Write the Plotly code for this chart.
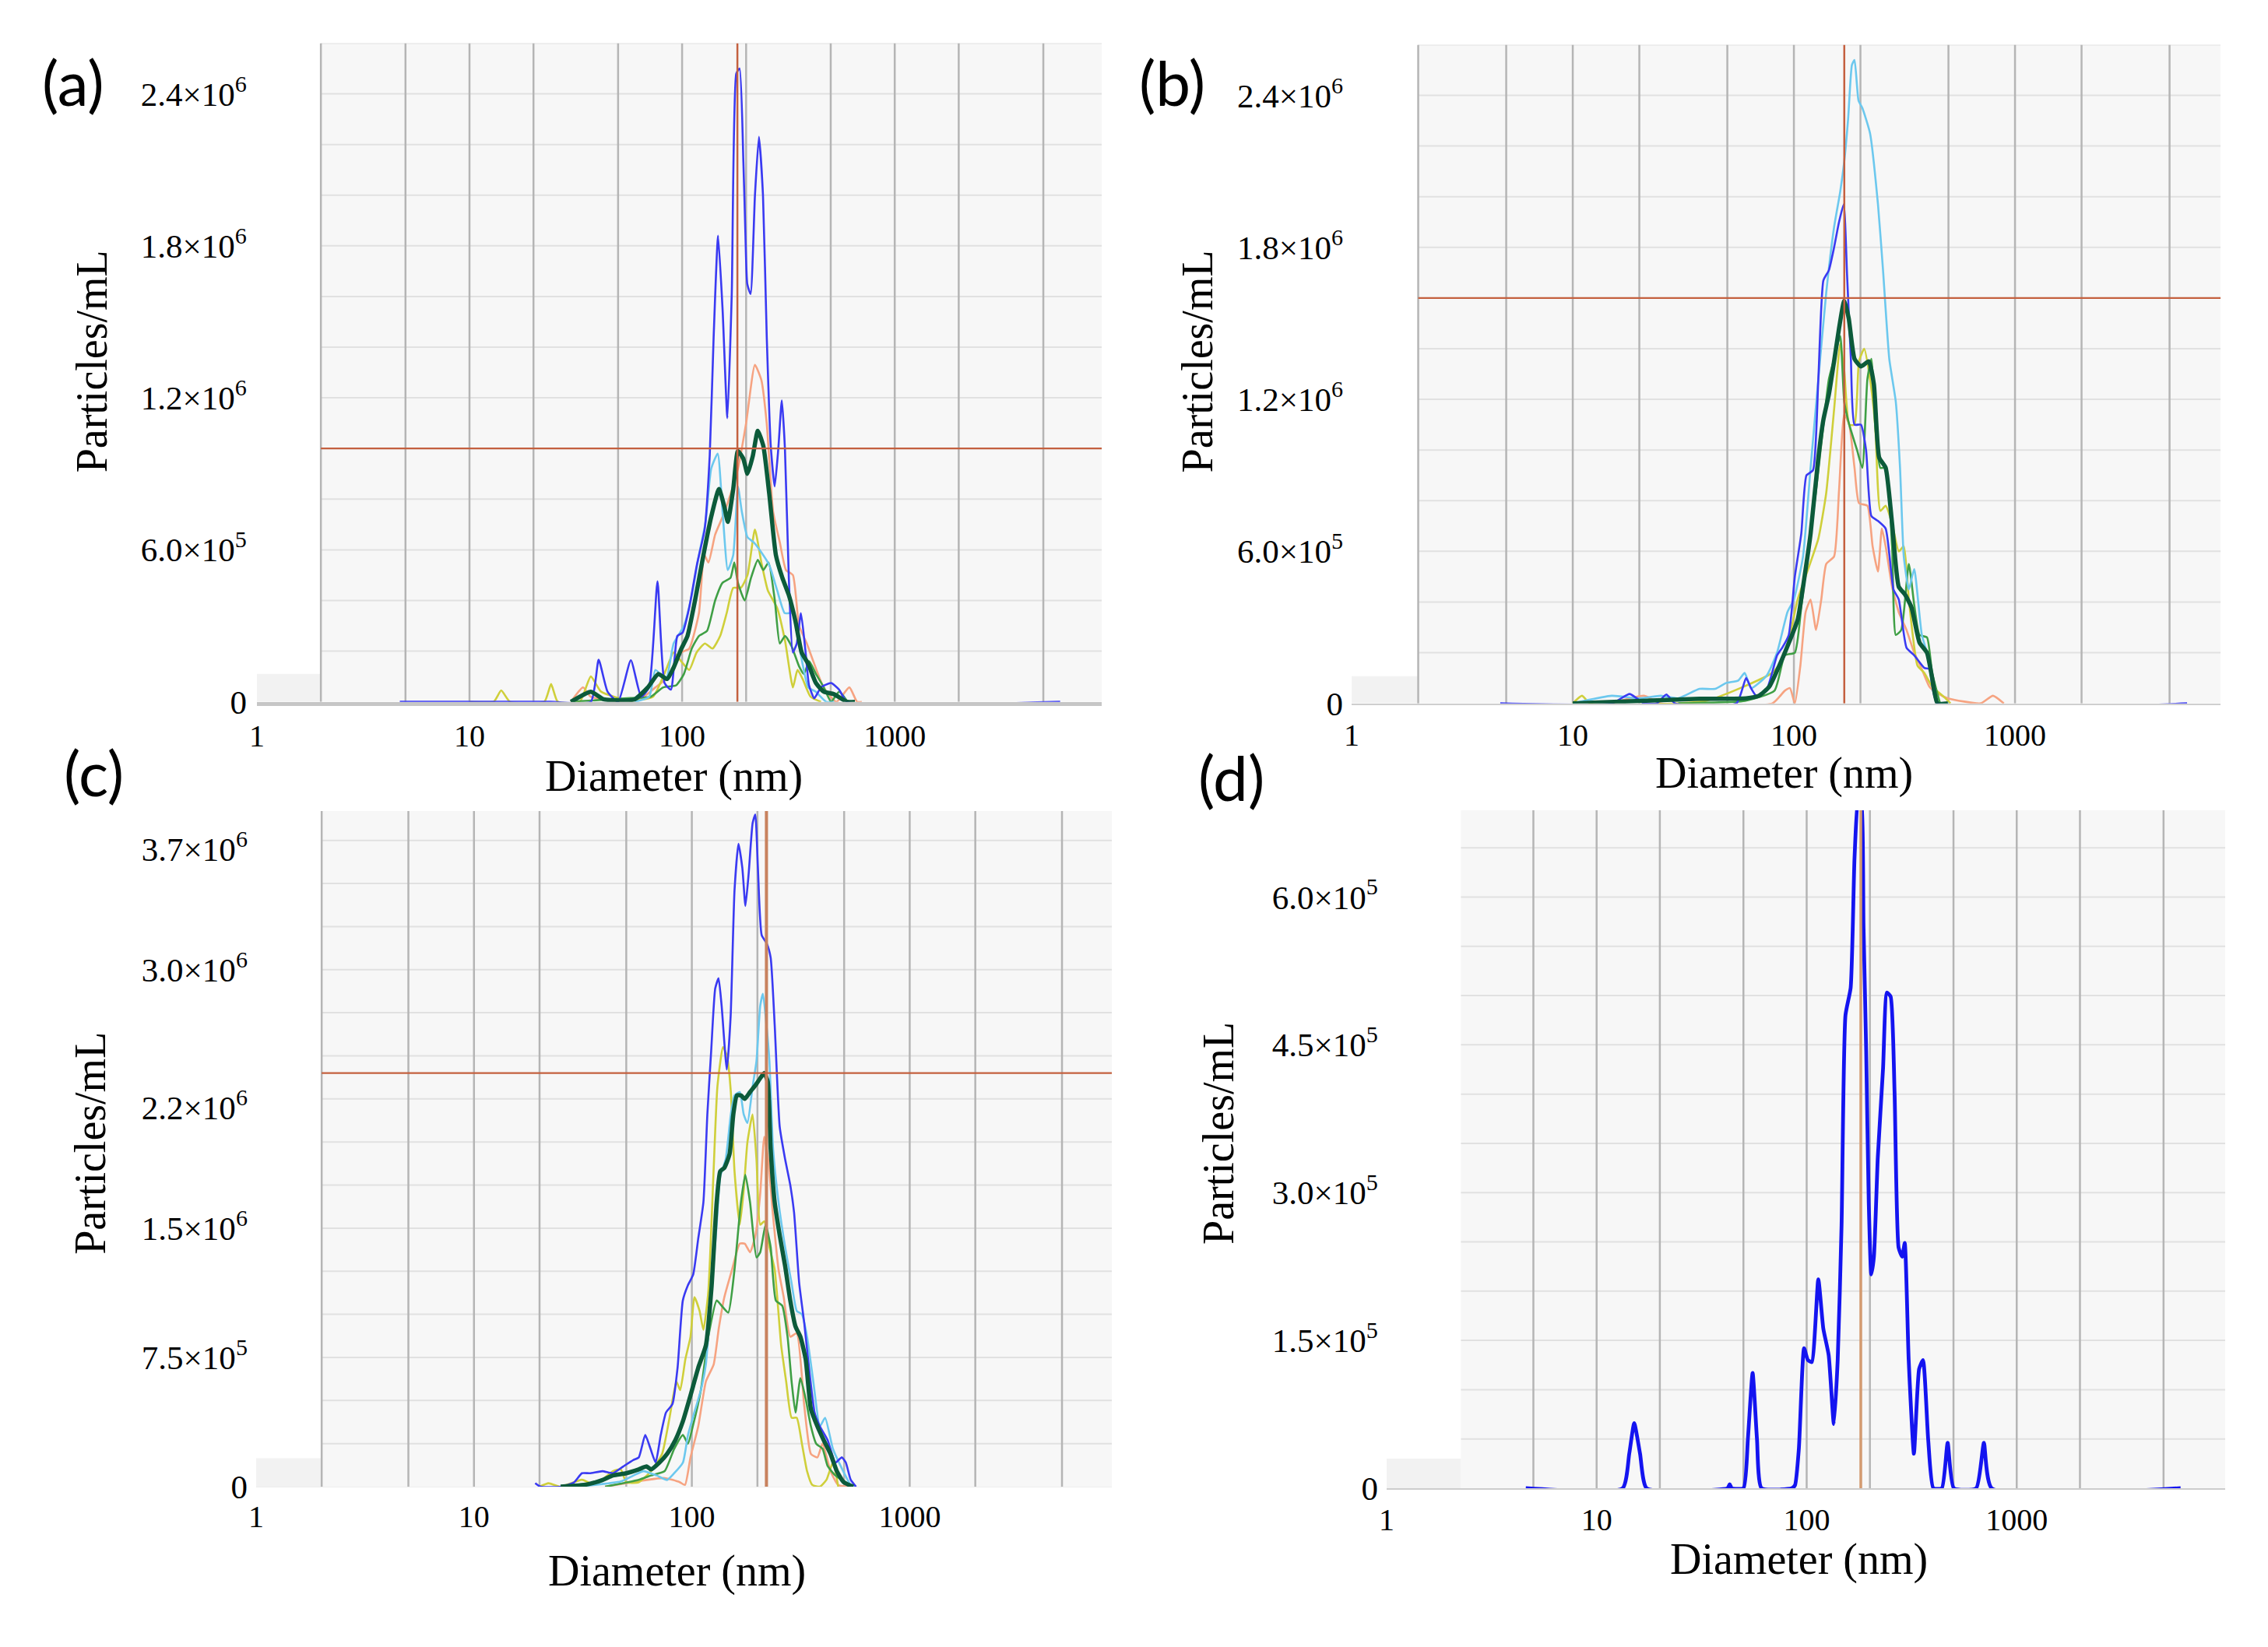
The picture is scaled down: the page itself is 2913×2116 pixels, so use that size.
import math
import plotly.graph_objects as go

# ---------------- data (diameter nm, particles/mL) ----------------
A_SALMON = [(30, 0), (34.2, 5.7e4), (37.2, 2e4), (46.6, 5e3), (63.3, 1e4), (74.9, 5.7e4), (84, 9e4),
            (91.2, 1.4e5), (99.2, 1.95e5), (108, 2.1e5), (120, 3.5e5), (127, 5.8e5), (133, 5.5e5),
            (143, 6.6e5), (155, 7.3e5), (169, 8.2e5), (183, 9.2e5), (200, 1.1e6), (220, 1.33e6),
            (236, 1.27e6), (250, 1.1e6), (268, 7.5e5), (288, 6.3e5), (308, 5.2e5), (332, 5.0e5),
            (355, 3.0e5), (386, 2.3e5), (414, 1.6e5), (463, 5.7e4), (532, 0), (612, 5.7e4), (665, 0), (700, 0)]
A_YELLOW = [(10, 0), (13, 0), (14.1, 4.5e4), (15.5, 0), (22.5, 0), (24.2, 7e4), (26, 0), (33, 0),
            (37.2, 1e5), (41.6, 4e4), (56.6, 5e3), (72.9, 2e4), (84, 1.26e5), (91.2, 1.95e5), (99, 1.6e5),
            (108, 1.26e5), (117, 1.95e5), (128, 2.3e5), (139, 2.1e5), (151, 2.6e5), (162, 3.5e5),
            (174, 4.5e5), (189, 4.5e5), (203, 5e5), (220, 6.8e5), (236, 5.5e5), (253, 4.4e5),
            (280, 3.7e5), (305, 2.4e5), (332, 5.7e4), (349, 1.26e5), (369, 9e4), (402, 2e4), (450, 0)]
A_GREEN = [(30, 0), (57, 1.5e4), (71, 2e4), (81.5, 5.7e4), (93.7, 6.5e4), (102, 1.1e5), (111, 2.1e5),
           (120, 2.6e5), (131, 2.8e5), (143, 4e5), (155, 4.7e5), (169, 4.9e5), (176, 5.5e5), (183, 4.7e5),
           (197, 4e5), (211, 4.9e5), (227, 5.6e5), (241, 5.2e5), (255, 5.5e5), (273, 4e5), (288, 2.3e5),
           (305, 2.6e5), (327, 2.2e5), (355, 1.4e5), (374, 1.1e5), (396, 1.6e5), (426, 1.1e5),
           (464, 5.7e4), (502, 0), (548, 4e4), (600, 0)]
A_CYAN = [(60, 0), (70, 2e4), (74.9, 1.26e5), (84, 9e4), (91.2, 2.3e5), (102, 3e5), (111, 4.2e5),
          (120, 5.8e5), (129, 7.1e5), (137, 9.2e5), (147, 9.8e5), (155, 7.5e5), (164, 5.2e5), (174, 5.8e5),
          (183, 8.5e5), (191, 7.5e5), (203, 6.5e5), (217, 6.3e5), (236, 5.9e5), (257, 5.4e5), (280, 4.4e5),
          (304, 3.5e5), (332, 3.5e5), (360, 1.95e5), (392, 5.7e4), (425, 4e4), (476, 0), (520, 0)]
A_BLUE = [(4.7, 0), (24, 0), (37.2, 0), (40.5, 1.66e5), (44.6, 4e4), (50, 0), (57.4, 1.64e5), (64.2, 2e4),
          (69.9, 5.7e4), (76.6, 4.76e5), (82.7, 7.4e4), (88.6, 4.8e4), (95, 2.6e5), (100.6, 2.73e5),
          (107.9, 3.7e5), (117.3, 5.4e5), (127.6, 6.8e5), (134.9, 9.74e5), (140.7, 1.44e6), (147.6, 1.84e6),
          (155.1, 1.545e6), (163.3, 1.12e6), (171.2, 1.61e6), (179.8, 2.48e6), (186.3, 2.5e6),
          (194.2, 2.13e6), (198.6, 1.84e6), (202.5, 1.65e6), (209.9, 1.61e6), (220.1, 2.0e6),
          (229.8, 2.23e6), (240.1, 2.0e6), (250.1, 1.44e6), (261.2, 1.01e6), (272.5, 8.5e5),
          (283.5, 1.0e6), (294.4, 1.19e6), (304.5, 1.0e6), (317.6, 4.9e5), (331.6, 1.95e5),
          (346.1, 2.3e5), (362.3, 3.5e5), (380.9, 1.95e5), (395.1, 6.6e4), (418.6, 1.4e4), (450, 5.7e4),
          (502, 7.4e4), (548, 4.8e4), (597, 0), (6000, 0)]
A_MEAN = [(30, 0), (37.2, 4e4), (42.7, 1e4), (51, 5e3), (59.9, 1e4), (69, 5.7e4), (77.3, 1.1e5), (85, 9e4),
          (91.2, 1.35e5), (99.2, 2.1e5), (106, 2.6e5), (115, 4e5), (126, 5.8e5), (137, 7.3e5), (149, 8.4e5),
          (158, 7.7e5), (164, 7.1e5), (174, 8.4e5), (183, 9.9e5), (194, 9.6e5), (203, 9e5), (215, 9.7e5),
          (227, 1.07e6), (241, 1.01e6), (257, 8.2e5), (276, 5.8e5), (296, 4.9e5), (318, 4.2e5),
          (341, 3.2e5), (365, 1.95e5), (392, 1.5e5), (426, 7.4e4), (464, 4e4), (518, 3e4), (597, 0), (650, 0)]

B_SALMON = [(15, 0), (21, 3e4), (25, 0), (80, 0), (91, 5e4), (96, 6e4), (101, 0), (107, 1.5e5), (113, 3.6e5),
            (119, 4.1e5), (126, 2.9e5), (133, 4.1e5), (140, 5.5e5), (152, 5.8e5), (160, 8.4e5),
            (169, 1.14e6), (178, 1.1e6), (188, 9.3e5), (197, 7.9e5), (215, 7.8e5), (227, 6.2e5),
            (240, 5.2e5), (250, 6.9e5), (260, 6.2e5), (278, 4.6e5), (298, 3.6e5), (323, 2.9e5),
            (350, 2e5), (379, 1.35e5), (410, 6.6e4), (446, 4e4), (497, 2e4), (700, 0), (795, 3e4), (890, 0)]
B_YELLOW = [(10, 0), (11, 3e4), (12, 0), (40, 1e4), (79.6, 1.2e5), (88.6, 1.7e5), (96, 2.7e5), (104, 4.1e5),
            (116, 5.3e5), (129, 6.5e5), (140, 8.3e5), (152, 1.16e6), (162, 1.42e6), (169, 1.31e6),
            (178, 1.1e6), (188, 1.1e6), (197, 1.35e6), (208, 1.4e6), (221, 1.28e6), (233, 1.1e6),
            (246, 7.6e5), (260, 7.8e5), (278, 7.1e5), (298, 6e5), (314, 6.2e5), (331, 4.1e5),
            (362, 1.5e5), (389, 1.2e5), (422, 6.6e4), (471, 3e4), (511, 0)]
B_GREEN = [(30, 0), (60, 1e4), (81.7, 5e4), (91, 1.9e5), (101, 2e5), (108, 3.8e5), (116, 6e5), (126, 8.4e5),
           (136, 1.1e6), (144, 1.28e6), (152, 1.36e6), (162, 1.45e6), (169, 1.19e6), (178, 1.1e6),
           (193, 1.0e6), (204, 9.3e5), (215, 1.28e6), (224, 1.36e6), (233, 1.1e6), (246, 9.3e5),
           (260, 9.3e5), (278, 6.2e5), (289, 2.7e5), (306, 2.9e5), (331, 5.5e5), (350, 3.9e5),
           (370, 2.7e5), (400, 2.6e5), (422, 1.2e5), (458, 0)]
B_CYAN = [(10, 0), (15, 3e4), (20, 2e4), (25, 3e4), (30, 2e4), (37.4, 5.7e4), (44, 5.7e4), (49.3, 8e4),
          (56, 9e4), (59.9, 1.2e5), (64.1, 6e4), (75.4, 1.1e5), (83.9, 2.0e5), (93.5, 3.6e5), (100, 4.1e5),
          (110, 5.8e5), (119, 9.3e5), (129, 1.28e6), (140, 1.62e6), (152, 1.88e6), (162, 2.02e6),
          (169, 2.14e6), (176, 2.31e6), (183, 2.52e6), (188, 2.54e6), (196, 2.38e6), (204, 2.35e6),
          (221, 2.25e6), (240, 1.97e6), (253, 1.71e6), (270, 1.36e6), (289, 1.19e6), (302, 9.3e5),
          (314, 5.8e5), (331, 4.5e5), (350, 5.3e5), (379, 2.7e5), (410, 1.7e5), (446, 0), (500, 0)]
B_BLUE = [(4.7, 0), (15, 0), (18.1, 3.7e4), (21, 0), (24, 0), (26.5, 3.5e4), (29, 0), (55, 0), (60.8, 1e5),
          (64, 6e4), (67.6, 3e4), (75, 5e4), (84, 1.9e5), (88.6, 2.2e5), (94.8, 2.7e5), (101, 5e5),
          (108, 6.7e5), (114, 9e5), (122, 9.2e5), (129, 1.28e6), (136, 1.67e6), (144, 1.71e6),
          (152, 1.8e6), (160, 1.9e6), (168, 1.97e6), (174, 1.69e6), (181, 1.36e6), (188, 1.1e6),
          (201, 1.1e6), (212, 1.0e6), (224, 7.4e5), (240, 7.2e5), (260, 6.9e5), (282, 4.5e5),
          (298, 4.1e5), (323, 2.2e5), (350, 1.9e5), (389, 1.4e5), (410, 1.35e5), (446, 0), (6000, 0)]
B_MEAN = [(10, 0), (37.4, 1.8e4), (60.8, 2e4), (69.5, 3e4), (77.4, 6.6e4), (86, 1.5e5), (95, 2.4e5),
          (104, 3.3e5), (113, 5.3e5), (119, 6.7e5), (129, 9.7e5), (136, 1.12e6), (144, 1.22e6),
          (152, 1.35e6), (160, 1.48e6), (169, 1.59e6), (177, 1.52e6), (188, 1.36e6), (201, 1.33e6),
          (218, 1.35e6), (230, 1.26e6), (243, 9.7e5), (260, 9.3e5), (278, 7.1e5), (298, 4.6e5),
          (318, 4.3e5), (340, 3.8e5), (370, 2.4e5), (400, 2e5), (422, 1e5), (446, 0), (497, 0)]

C_SALMON = [(40, 0), (75, 5e4), (88, 2.6e4), (93, 1e4), (98.6, 1.7e5), (107, 3.5e5), (116, 6.1e5),
            (126, 7.1e5), (133, 9.2e5), (141, 1.1e6), (153, 1.26e6), (166, 1.41e6), (175, 1.41e6),
            (185, 1.36e6), (196, 1.46e6), (206, 1.7e6), (215, 2.03e6), (224, 1.9e6), (236, 1.57e6),
            (250, 1.26e6), (264, 1.1e6), (283, 8.7e5), (303, 8.9e5), (328, 4.7e5), (352, 1.9e5),
            (377, 1.7e5), (398, 2.5e5), (433, 9e4), (469, 1e4), (520, 0)]
C_YELLOW = [(20, 0), (22, 2e4), (25, 0), (31.3, 4e4), (36, 1e4), (43.4, 9e4), (47.2, 1e5), (50, 2.6e4),
            (57.1, 2.6e4), (65, 9e4), (73, 1.9e5), (79, 4e5), (84.9, 6.1e5), (88.4, 5.6e5), (93.4, 7.4e5),
            (98.6, 8.7e5), (102.8, 1.1e6), (108.5, 1.02e6), (113, 9.1e5), (119, 1.13e6), (126, 1.85e6),
            (131, 2.32e6), (139, 2.55e6), (145, 2.5e6), (151, 2.29e6), (157, 1.83e6), (166, 1.52e6),
            (173, 1.72e6), (180, 2.0e6), (190, 2.16e6), (198, 1.9e6), (206, 1.52e6), (215, 1.54e6),
            (227, 1.39e6), (240, 1.26e6), (257, 8.2e5), (271, 6.1e5), (287, 4e5), (303, 4e5),
            (320, 2.5e5), (338, 9e4), (357, 1e4), (387, 0), (415, 4e4), (444, 1.4e5), (470, 0)]
C_GREEN = [(40, 0), (57, 4e4), (65, 6.5e4), (75, 9e4), (83, 2.2e5), (91, 3e5), (96, 2.5e5), (101, 3.5e5),
           (110, 5.6e5), (119, 8.7e5), (130, 1.08e6), (137, 1.05e6), (147, 1.01e6), (157, 1.26e6),
           (168, 1.65e6), (176, 1.81e6), (185, 1.65e6), (198, 1.33e6), (206, 1.36e6), (218, 1.52e6),
           (230, 1.39e6), (243, 1.08e6), (260, 1.05e6), (275, 8.7e5), (287, 6.1e5), (299, 4.3e5),
           (315, 6.3e5), (333, 5.1e5), (352, 3.5e5), (372, 2.5e5), (398, 2.2e5), (420, 1.2e5),
           (456, 6.5e4), (509, 2.6e4), (560, 0)]
C_CYAN = [(30, 0), (47.2, 3e4), (54, 6.5e4), (60, 9e4), (69, 6.5e4), (77, 3.9e4), (83, 7.8e4), (91, 1.4e5),
          (96, 3e5), (101, 4e5), (110, 5.6e5), (116, 7.1e5), (123, 1.13e6), (130, 1.52e6), (135, 1.8e6),
          (143, 1.9e6), (151, 2.16e6), (157, 2.27e6), (166, 2.29e6), (173, 2.16e6), (180, 2.11e6),
          (190, 2.32e6), (198, 2.47e6), (206, 2.79e6), (212, 2.86e6), (220, 2.68e6), (227, 2.47e6),
          (236, 1.96e6), (250, 1.65e6), (268, 1.39e6), (287, 1.18e6), (303, 1.02e6), (320, 1.0e6),
          (338, 8.7e5), (361, 6.1e5), (387, 3.5e5), (409, 4e5), (444, 2.2e5), (482, 1.2e5), (536, 1e4),
          (560, 0)]
C_BLUE = [(19.1, 2e4), (20.2, 0), (25.1, 0), (28.8, 2.5e4), (31.3, 7.8e4), (34, 7.8e4), (38.9, 9e4),
          (43.4, 7.8e4), (48.4, 1.17e5), (54, 1.55e5), (57.1, 1.7e5), (61.1, 3e5), (64.6, 2.2e5),
          (68.2, 1.4e5), (72, 3e5), (76.1, 4.3e5), (81.5, 4.8e5), (86, 6.9e5), (90.9, 1.08e6), (96, 1.17e6),
          (101.4, 1.23e6), (107, 1.44e6), (113, 1.65e6), (117.8, 2.16e6), (122.7, 2.53e6), (128, 2.89e6),
          (132.6, 2.95e6), (137, 2.79e6), (144.7, 2.42e6), (150.7, 2.73e6), (157, 3.46e6), (163.7, 3.73e6),
          (170.5, 3.59e6), (176.2, 3.37e6), (182.4, 3.56e6), (190.1, 3.85e6), (195.5, 3.9e6), (201, 3.59e6),
          (209.2, 3.2e6), (221, 3.15e6), (230, 3.07e6), (240, 2.68e6), (253, 2.09e6), (268, 1.9e6),
          (283, 1.75e6), (294.6, 1.59e6), (311, 1.18e6), (328, 9.5e5), (347, 6.6e5), (366, 4.3e5),
          (387, 3.5e5), (420, 2.7e5), (456, 1.4e5), (488, 1.7e5), (509, 1.4e5), (536, 4e4), (567, 0)]
C_MEAN = [(25, 0), (33, 1.3e4), (39, 3.9e4), (43.4, 6.5e4), (50, 7.8e4), (57, 1.0e5), (62, 1.17e5), (65, 1.0e5),
          (71, 1.4e5), (77, 1.9e5), (84, 2.7e5), (91, 3.8e5), (98.6, 5.3e5), (107, 6.9e5), (116, 8.2e5),
          (123, 1.15e6), (130, 1.65e6), (135, 1.83e6), (141, 1.85e6), (149, 1.93e6), (155, 2.16e6),
          (161, 2.27e6), (168, 2.27e6), (175, 2.25e6), (185, 2.29e6), (196, 2.33e6), (206, 2.37e6),
          (215, 2.4e6), (223, 2.35e6), (230, 1.96e6), (240, 1.65e6), (253, 1.46e6), (268, 1.28e6),
          (283, 1.08e6), (299, 9.3e5), (315, 8.7e5), (333, 7.4e5), (352, 4.5e5), (377, 3.5e5),
          (403, 2.7e5), (433, 1.9e5), (463, 9e4), (498, 2.6e4), (551, 0)]

D_BLUE = [(4.6, 0), (13.3, 0), (14.3, 3.5e4), (15.1, 6.6e4), (16.1, 3.5e4), (17.3, 0), (42, 0), (43, 4e3),
          (44, 0), (50, 0), (52.5, 5e4), (55.3, 1.17e5), (58, 5e4), (61, 0), (85, 0), (88, 3e3),
          (91.8, 4e4), (97.2, 1.42e5), (101.4, 1.3e5), (105.8, 1.28e5), (113.6, 2.12e5), (120, 1.62e5),
          (127.3, 1.35e5), (134.7, 6.5e4), (140.5, 1.3e5), (146.6, 2.67e5), (153, 4.8e5), (162, 5.08e5),
          (169, 6.4e5), (176.3, 7.0e5), (181, 7.0e5), (186.5, 5.7e5), (192, 4.44e5), (197.5, 2.9e5),
          (203, 2.17e5), (209, 2.35e5), (218, 3.35e5), (231, 4.26e5), (241, 5.03e5), (251, 4.99e5),
          (262, 4.03e5), (274, 2.44e5), (285, 2.35e5), (293, 2.49e5), (306, 1.3e5), (324, 3.5e4),
          (343, 1.21e5), (358, 1.3e5), (379, 4.9e4), (401, 0), (440, 0), (469, 4.6e4), (502, 0),
          (641, 0), (698, 4.6e4), (760, 0), (6030, 0)]

# reference (cursor) lines: [diameter, particles/mL or None]
A_CURSOR = [182, 1.0e6]
B_CURSOR = [169, 1.6e6]
C_CURSOR = [220, 2.4e6]
D_CURSOR = [181, None]

X_TICKS = [1, 10, 100, 1000]
X_TICKTEXT = ["1", "10", "100", "1000"]
X_GRID = [2, 5, 10, 20, 50, 100, 200, 500, 1000, 2000, 5000]

A_YTICKS = [0, 6e5, 1.2e6, 1.8e6, 2.4e6]
A_YTEXT = ["0", "6.0×10<sup>5</sup>", "1.2×10<sup>6</sup>", "1.8×10<sup>6</sup>", "2.4×10<sup>6</sup>"]
C_YTICKS = [0, 7.5e5, 1.5e6, 2.2e6, 3.0e6, 3.7e6]
C_YTEXT = ["0", "7.5×10<sup>5</sup>", "1.5×10<sup>6</sup>", "2.2×10<sup>6</sup>", "3.0×10<sup>6</sup>",
           "3.7×10<sup>6</sup>"]
D_YTICKS = [0, 1.5e5, 3.0e5, 4.5e5, 6.0e5]
D_YTEXT = ["0", "1.5×10<sup>5</sup>", "3.0×10<sup>5</sup>", "4.5×10<sup>5</sup>", "6.0×10<sup>5</sup>"]

PANEL_LABELS = ["(a)", "(b)", "(c)", "(d)"]
X_TITLE = "Diameter (nm)"
Y_TITLE = "Particles/mL"

# ---------------- styling / layout ----------------
W, H = 2913, 2116          # browser window
OFF = 8                    # default page margin of the html body
FW, FH = W - 2 * OFF, H - 2 * OFF
SERIF = "Liberation Serif"
COL = dict(salmon="#f6a381", yellow="#cfcf3a", green="#3f9f45", cyan="#6cc8ee",
           blue="#3a3af2", mean="#0c5a3a", dblue="#1414f0")


def px(x):
    return (x - OFF) / FW


def py(y):
    return 1 - (y - OFF) / FH


panels = [
    dict(name="a", series=[("salmon", A_SALMON), ("yellow", A_YELLOW), ("green", A_GREEN), ("cyan", A_CYAN),
                           ("blue", A_BLUE), ("mean", A_MEAN)],
         cursor=A_CURSOR, xdom=(321, 1410), ydom=(56, 912), xmax=10 ** 3.974, ymax=2.6e6, dy=2e5,
         gx0=2, yt=A_YTICKS, ytt=A_YTEXT, box=1.1e5, axw=5, axc="#c6c6c6", std=12, xstd=4, cw=2.5,
         ccol="#c4603f", label=(84, 106), ytitle=(108, 470), xtitle=(858, 1009)),
    dict(name="b", series=[("salmon", B_SALMON), ("yellow", B_YELLOW), ("green", B_GREEN), ("cyan", B_CYAN),
                           ("blue", B_BLUE), ("mean", B_MEAN)],
         cursor=B_CURSOR, xdom=(1732, 2852), ydom=(58, 914), xmax=10 ** 3.93, ymax=2.6e6, dy=2e5,
         gx0=2, yt=A_YTICKS, ytt=A_YTEXT, box=1.07e5, axw=2, axc="#cfcfcf", std=10, xstd=4, cw=2.5,
         ccol="#c4603f", label=(1501, 106), ytitle=(1533, 470), xtitle=(2289, 1005)),
    dict(name="c", series=[("salmon", C_SALMON), ("yellow", C_YELLOW), ("green", C_GREEN), ("cyan", C_CYAN),
                           ("blue", C_BLUE), ("mean", C_MEAN)],
         cursor=C_CURSOR, xdom=(320, 1423), ydom=(1054, 1932), xmax=10 ** 3.928, ymax=3.92e6, dy=2.5e5,
         gx0=2, yt=C_YTICKS, ytt=C_YTEXT, box=1.65e5, axw=1, axc="#ededed", std=10, xstd=3, cw=4,
         ccol="#c8825e", label=(111, 1003), ytitle=(106, 1486), xtitle=(862, 2042)),
    dict(name="d", series=[("dblue", D_BLUE)],
         cursor=D_CURSOR, xdom=(1777, 2858), ydom=(1053, 1934), xmax=10 ** 3.993, ymax=6.88e5, dy=5e4,
         gx0=2.26, yt=D_YTICKS, ytt=D_YTEXT, box=3e4, axw=2, axc="#cdcdcd", std=10, xstd=4, cw=3.5,
         ccol="#d39a70", label=(1577, 1009), ytitle=(1561, 1473), xtitle=(2308, 2027)),
]

fig = go.Figure()
layout = dict(width=FW, height=FH, margin=dict(l=0, r=0, t=0, b=0), autosize=False,
              paper_bgcolor="white", plot_bgcolor="white", showlegend=False, annotations=[])

for i, p in enumerate(panels):
    k = "" if i == 0 else str(i + 1)
    xa, ya = "x" + k, "y" + k
    xmax, ymax = p["xmax"], p["ymax"]
    common = dict(xaxis=xa, yaxis=ya, hoverinfo="skip", showlegend=False)

    # plot background (light) and the small grey box at bottom left
    fig.add_trace(go.Scatter(x=[p["gx0"], xmax, xmax, p["gx0"], p["gx0"]], y=[0, 0, ymax, ymax, 0],
                             fill="toself", fillcolor="#f7f7f7", mode="none", **common))
    fig.add_trace(go.Scatter(x=[1, p["gx0"], p["gx0"], 1, 1], y=[0, 0, p["box"], p["box"], 0],
                             fill="toself", fillcolor="#f2f2f2", mode="none", **common))
    # horizontal grid
    hx, hy = [], []
    n = int(ymax // p["dy"])
    for j in range(1, n + 1):
        yv = j * p["dy"]
        hx += [p["gx0"], xmax, None]
        hy += [yv, yv, None]
    fig.add_trace(go.Scatter(x=hx, y=hy, mode="lines", line=dict(color="#e1e1e1", width=2), **common))
    # vertical grid
    vx, vy = [], []
    for g in X_GRID:
        if g < p["gx0"] - 1e-9:
            continue
        vx += [g, g, None]
        vy += [0, ymax, None]
    fig.add_trace(go.Scatter(x=vx, y=vy, mode="lines", line=dict(color="#b5b5b5", width=2.5), **common))

    # size distributions
    for cname, data in p["series"]:
        xs = [d for d, _ in data]
        ys = [v for _, v in data]
        if p["name"] == "d":
            w = 4.8
        else:
            w = 5.5 if cname == "mean" else 2.6
        fig.add_trace(go.Scatter(x=xs, y=ys, mode="lines",
                                 line=dict(color=COL[cname], width=w, shape="spline", smoothing=0.5),
                                 **common))

    # cursor lines
    cx, cy = p["cursor"]
    fig.add_trace(go.Scatter(x=[cx, cx], y=[0, ymax], mode="lines",
                             line=dict(color=p["ccol"], width=p["cw"]), **common))
    if cy is not None:
        fig.add_trace(go.Scatter(x=[p["gx0"], xmax], y=[cy, cy], mode="lines",
                                 line=dict(color="#c4603f", width=2.2), **common))

    layout["xaxis" + k] = dict(
        type="log", range=[0, math.log10(xmax)], domain=[px(p["xdom"][0]), px(p["xdom"][1])],
        anchor=ya, showgrid=False, zeroline=False, showline=True, linecolor=p["axc"],
        linewidth=p["axw"], layer="below traces", tickmode="array", tickvals=X_TICKS,
        ticktext=X_TICKTEXT, ticks="", tickfont=dict(family=SERIF, size=40, color="black"),
        ticklabelstandoff=p["xstd"])
    layout["yaxis" + k] = dict(
        range=[0, ymax], domain=[py(p["ydom"][1]), py(p["ydom"][0])], anchor=xa,
        showgrid=False, zeroline=False, showline=False, tickmode="array", tickvals=p["yt"],
        ticktext=p["ytt"], ticks="", tickfont=dict(family=SERIF, size=43, color="black"),
        ticklabelstandoff=p["std"])

    layout["annotations"] += [
        dict(text=PANEL_LABELS[i], x=px(p["label"][0]), y=py(p["label"][1]), xref="paper", yref="paper",
             showarrow=False, xanchor="center", yanchor="middle",
             font=dict(family="Lato", size=80, color="black")),
        dict(text=Y_TITLE, x=px(p["ytitle"][0]), y=py(p["ytitle"][1]), xref="paper", yref="paper",
             showarrow=False, xanchor="center", yanchor="middle", textangle=-90,
             font=dict(family=SERIF, size=56, color="black")),
        dict(text=X_TITLE, x=px(p["xtitle"][0]), y=py(p["xtitle"][1]), xref="paper", yref="paper",
             showarrow=False, xanchor="center", yanchor="middle",
             font=dict(family=SERIF, size=56, color="black")),
    ]

fig.update_layout(**layout)
fig.write_html("out.html")
